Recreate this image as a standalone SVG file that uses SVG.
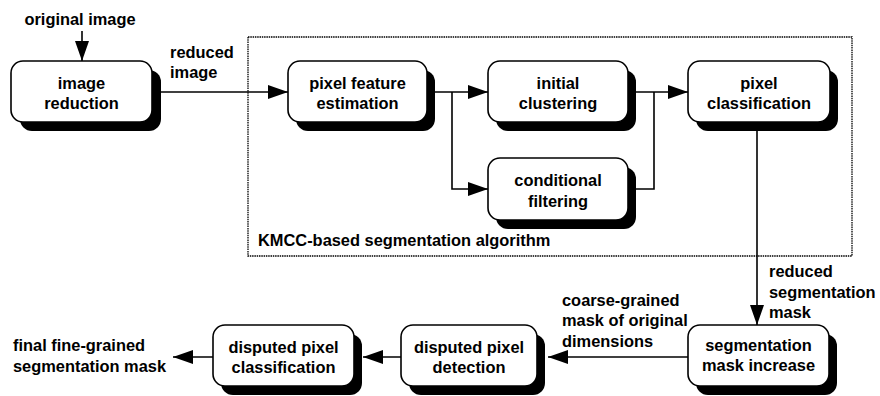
<svg xmlns="http://www.w3.org/2000/svg" width="880" height="396" viewBox="0 0 880 396">
<style>
text{font-family:"Liberation Sans",Arial,sans-serif;font-weight:bold;font-size:16.4px;fill:#000}
.c{text-anchor:middle}
.box{fill:#fff;stroke:#000;stroke-width:1.6}
.sh{fill:#000}
.ln{fill:none;stroke:#000;stroke-width:1.6}
</style>
<defs>
<marker id="ah" markerUnits="userSpaceOnUse" markerWidth="20" markerHeight="14" refX="20" refY="7" orient="auto">
<path d="M0,0 L20,7 L0,14 z" fill="#000"/>
</marker>
</defs>
<rect x="248" y="37" width="604" height="219" fill="none" stroke="#000" stroke-width="1.3" stroke-dasharray="1.5 0.8"/>
<text x="258" y="246">KMCC-based segmentation algorithm</text>
<g id="connectors">
<path class="ln" d="M82,31 V61" marker-end="url(#ah)"/>
<path class="ln" d="M152,92 H288" marker-end="url(#ah)"/>
<path class="ln" d="M427,92 H488" marker-end="url(#ah)"/>
<path class="ln" d="M452,92 V189 H488" marker-end="url(#ah)"/>
<path class="ln" d="M628,92 H688" marker-end="url(#ah)"/>
<path class="ln" d="M628,189 H654 V92"/>
<path class="ln" d="M757,122 V325" marker-end="url(#ah)"/>
<path class="ln" d="M688,357 H548" marker-end="url(#ah)"/>
<path class="ln" d="M401,357 H363" marker-end="url(#ah)"/>
<path class="ln" d="M213,357 H173" marker-end="url(#ah)"/>
</g>
<g id="labels">
<text x="80" y="25" class="c">original image</text>
<text x="170" y="58">reduced</text>
<text x="170" y="78">image</text>
<text x="769" y="277">reduced</text>
<text x="769" y="298">segmentation</text>
<text x="769" y="318">mask</text>
<text x="562" y="306">coarse-grained</text>
<text x="562" y="326">mask of original</text>
<text x="562" y="347">dimensions</text>
<text x="13" y="351">final fine-grained</text>
<text x="13" y="372">segmentation mask</text>
</g>
<g id="image-reduction">
<rect class="sh" x="20" y="70" width="141" height="61" rx="12"/>
<rect class="box" x="11" y="61" width="141" height="61" rx="12"/>
<text x="81.5" y="88.5" class="c">image</text>
<text x="81.5" y="109" class="c">reduction</text>
</g>
<g id="pixel-feature-estimation">
<rect class="sh" x="296" y="70" width="139" height="61" rx="12"/>
<rect class="box" x="288" y="61" width="139" height="61" rx="12"/>
<text x="357.5" y="88.5" class="c">pixel feature</text>
<text x="357.5" y="109" class="c">estimation</text>
</g>
<g id="initial-clustering">
<rect class="sh" x="496" y="70" width="140" height="61" rx="12"/>
<rect class="box" x="488" y="61" width="140" height="61" rx="12"/>
<text x="558" y="88.5" class="c">initial</text>
<text x="558" y="109" class="c">clustering</text>
</g>
<g id="pixel-classification">
<rect class="sh" x="696" y="70" width="142" height="61" rx="12"/>
<rect class="box" x="688" y="61" width="142" height="61" rx="12"/>
<text x="759" y="88.5" class="c">pixel</text>
<text x="759" y="109" class="c">classification</text>
</g>
<g id="conditional-filtering">
<rect class="sh" x="496" y="167" width="140" height="62" rx="12"/>
<rect class="box" x="488" y="158" width="140" height="62" rx="12"/>
<text x="558" y="185.5" class="c">conditional</text>
<text x="558" y="206.5" class="c">filtering</text>
</g>
<g id="segmentation-mask-increase">
<rect class="sh" x="696" y="334" width="141" height="61" rx="12"/>
<rect class="box" x="688" y="325" width="141" height="61" rx="12"/>
<text x="758.5" y="351" class="c">segmentation</text>
<text x="758.5" y="371" class="c">mask increase</text>
</g>
<g id="disputed-pixel-detection">
<rect class="sh" x="409" y="334" width="136" height="61" rx="12"/>
<rect class="box" x="401" y="325" width="136" height="61" rx="12"/>
<text x="469" y="353" class="c">disputed pixel</text>
<text x="469" y="373" class="c">detection</text>
</g>
<g id="disputed-pixel-classification">
<rect class="sh" x="221" y="334" width="141" height="61" rx="12"/>
<rect class="box" x="213" y="325" width="141" height="61" rx="12"/>
<text x="283.5" y="353" class="c">disputed pixel</text>
<text x="283.5" y="373" class="c">classification</text>
</g>
</svg>
